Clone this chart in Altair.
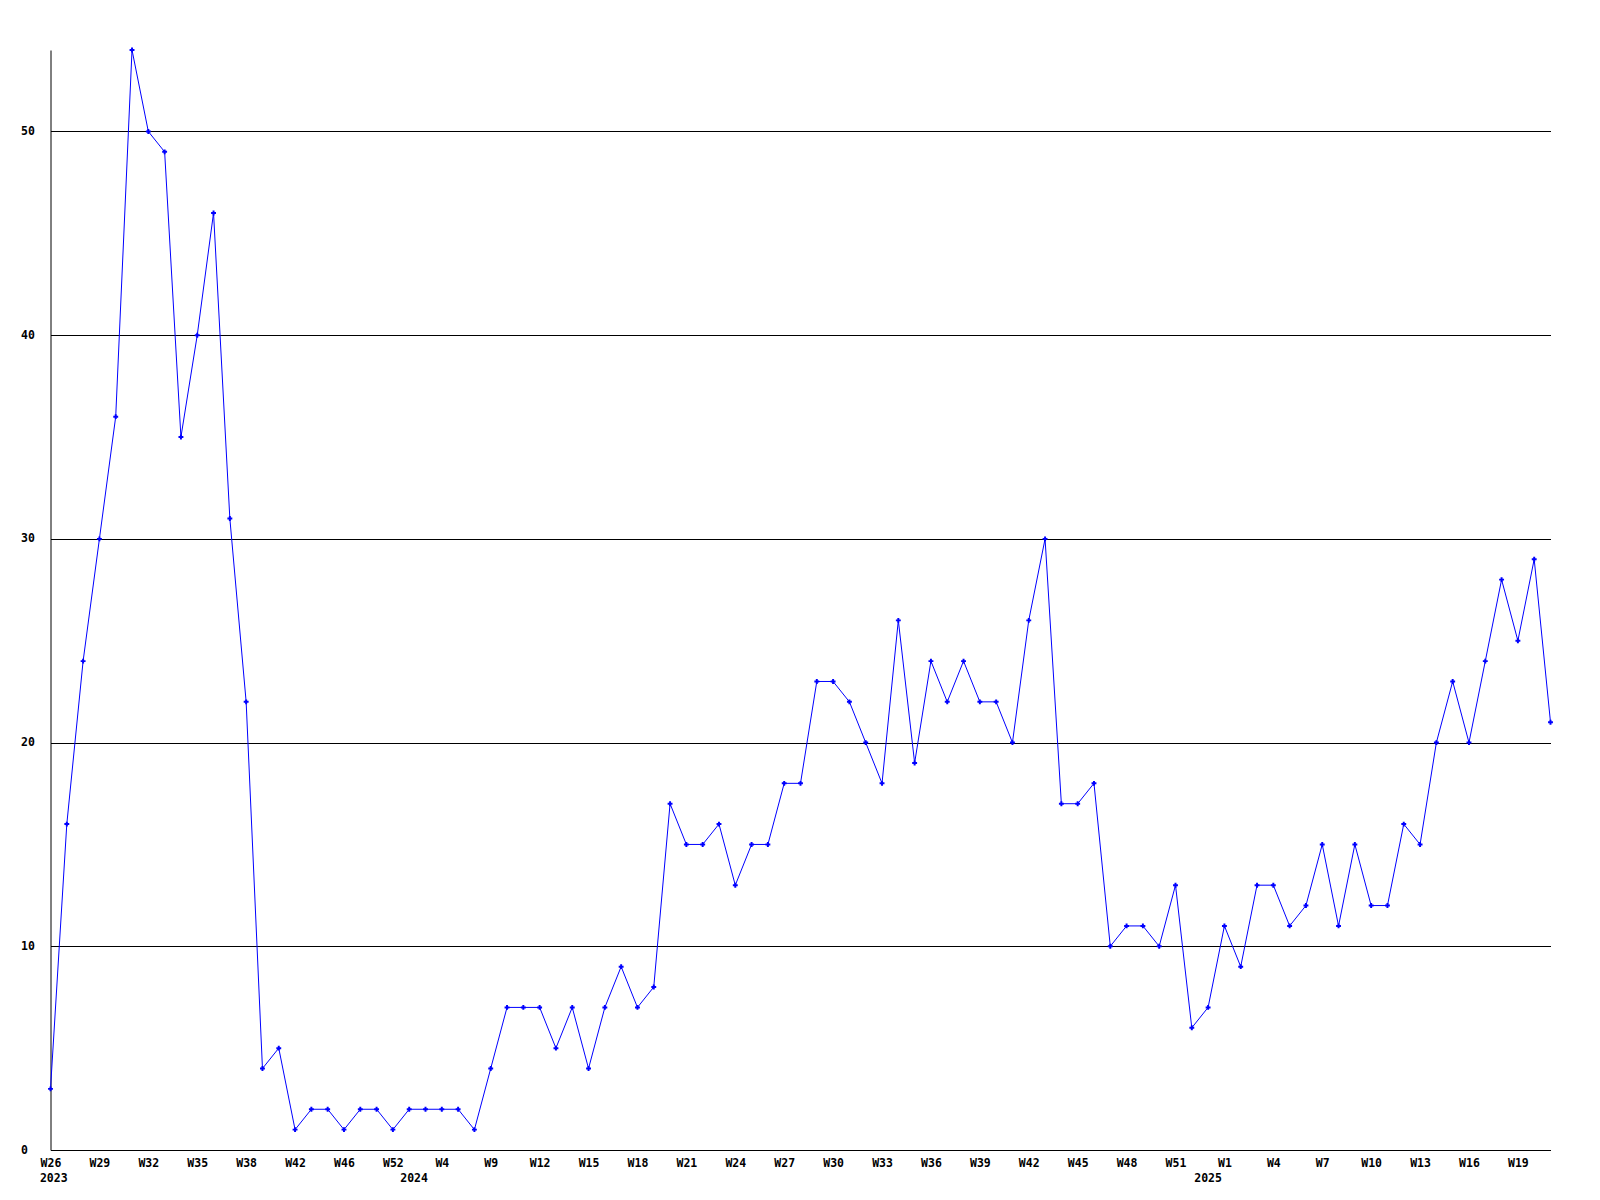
import altair as alt
import pandas as pd

# weekly values (one per point, evenly spaced)
values = [3, 16, 24, 30, 36, 54, 50, 49, 35, 40, 46, 31, 22, 4, 5, 1, 2, 2, 1, 2,
          2, 1, 2, 2, 2, 2, 1, 4, 7, 7, 7, 5, 7, 4, 7, 9, 7, 8, 17, 15,
          15, 16, 13, 15, 15, 18, 18, 23, 23, 22, 20, 18, 26, 19, 24, 22, 24, 22, 22, 20,
          26, 30, 17, 17, 18, 10, 11, 11, 10, 13, 6, 7, 11, 9, 13, 13, 11, 12, 15, 11,
          15, 12, 12, 16, 15, 20, 23, 20, 24, 28, 25, 29, 21]

# tick labels, one every 3rd point
tick_labels = ["W26", "W29", "W32", "W35", "W38", "W42", "W46", "W52", "W4", "W9",
               "W12", "W15", "W18", "W21", "W24", "W27", "W30", "W33", "W36", "W39",
               "W42", "W45", "W48", "W51", "W1", "W4", "W7", "W10", "W13", "W16", "W19"]
tick_step = 3

years = ["2023", "2024", "2025"]
year_index = [0.2, 22.3, 71]

df = pd.DataFrame({"i": list(range(len(values))), "v": values})
ydf = pd.DataFrame({"i": year_index, "t": years})

n = len(values)
tick_vals = [k * tick_step for k in range(len(tick_labels))]
label_expr = "[" + ",".join("'%s'" % t for t in tick_labels) + "][round(datum.value/%d)]" % tick_step

FONT = "DejaVu Sans Mono"
FS = 11.5

xscale = alt.Scale(domain=[0, n - 1], nice=False, zero=False)
yscale = alt.Scale(domain=[0, 54], nice=False, zero=True)

x_axis = alt.Axis(values=tick_vals, labelExpr=label_expr, title=None, grid=False,
                  ticks=False, tickSize=0, labelPadding=7, labelBaseline="top",
                  domainColor="black", domainWidth=1, labelFont=FONT, labelFontSize=FS,
                  labelFontWeight="bold", labelColor="black", labelOverlap=False,
                  labelFlush=False)
y_axis = alt.Axis(values=[0, 10, 20, 30, 40, 50], title=None, grid=True,
                  gridColor="black", gridWidth=1, gridOpacity=1,
                  ticks=False, tickSize=0, labelPadding=30, labelAlign="left",
                  labelBaseline="middle", domainColor="black", domainWidth=1,
                  labelFont=FONT, labelFontSize=FS, labelFontWeight="bold",
                  labelColor="black", labelOverlap=False)

base = alt.Chart(df)

line = base.mark_line(color="#0000ff", strokeWidth=1).encode(
    x=alt.X("i:Q", scale=xscale, axis=x_axis),
    y=alt.Y("v:Q", scale=yscale, axis=y_axis),
)
pts = base.mark_point(shape="cross", filled=True, size=24, color="#0000ff", opacity=1).encode(
    x=alt.X("i:Q", scale=xscale),
    y=alt.Y("v:Q", scale=yscale),
)
yr = alt.Chart(ydf).mark_text(font=FONT, fontSize=FS, fontWeight="bold", color="black",
                              baseline="top", align="center").encode(
    x=alt.X("i:Q", scale=xscale),
    y=alt.value(1123),
    text="t:N",
)

chart = (line + pts + yr).properties(
    width=1500, height=1100,
    autosize=alt.AutoSizeParams(type="none"),
    padding={"left": 42.5, "top": 42, "right": 40, "bottom": 40},
    background="white",
).configure_view(stroke=None)

chart.save("out.html", embed_options={"renderer": "svg", "actions": False})
